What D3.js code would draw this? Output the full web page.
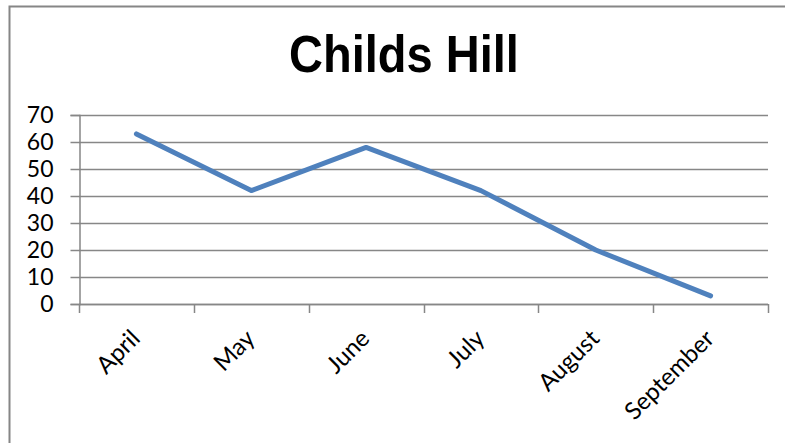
<!DOCTYPE html>
<html><head><meta charset="utf-8">
<script src="https://cdn.jsdelivr.net/npm/d3@7/dist/d3.min.js"></script>
<style>body{margin:0;background:#fff}svg{display:block}</style>
</head><body>
<script>
const title = "Childs Hill";
const categories = ["April","May","June","July","August","September"];
const values = [63, 42, 58, 42, 20, 3];
const yTicks = [0,10,20,30,40,50,60,70];

(function(){
const W = 785, H = 443;
const svg = d3.select("body").append("svg").attr("width", W).attr("height", H);
svg.append("rect").attr("width", W).attr("height", H).attr("fill", "#fff");
// chart border (left + top visible)
svg.append("path").attr("d", `M9.5,${H} V6.5 H${W}`).attr("fill","none").attr("stroke","#868686").attr("stroke-width",2);

const pLeft = 79, pRight = 768, pTop = 115, pBottom = 304;
const x = d3.scaleBand().domain(categories).range([pLeft, pRight]);
const y = d3.scaleLinear().domain([0, 70]).range([pBottom, pTop]);

// gridlines
svg.append("g").selectAll("line").data(yTicks).join("line")
  .attr("x1", pLeft).attr("x2", pRight)
  .attr("y1", d => Math.round(y(d)) + 0.5).attr("y2", d => Math.round(y(d)) + 0.5)
  .attr("stroke", "#878787").attr("stroke-width", 1.5);

// y axis
const yAxis = d3.axisLeft(y).tickValues(yTicks).tickSize(9).tickPadding(17);
const gy = svg.append("g").attr("transform", `translate(${pLeft+0.5},0)`).call(yAxis);
gy.select(".domain").attr("stroke", "#878787").attr("stroke-width", 1.5);
gy.selectAll(".tick line").attr("stroke", "#878787").attr("stroke-width", 1.5);
gy.selectAll("text").attr("font-family", "Lato, 'Open Sans', sans-serif").attr("font-size", 23).attr("fill", "#000");

// x axis
const xTickPos = categories.map(c => x(c)).concat([pRight]);
const gx = svg.append("g");
gx.append("line").attr("x1", pLeft).attr("x2", pRight).attr("y1", pBottom + 0.5).attr("y2", pBottom + 0.5)
  .attr("stroke", "#878787").attr("stroke-width", 1.5);
gx.selectAll("line.t").data(xTickPos).join("line").attr("class","t")
  .attr("x1", d => Math.round(d) + 0.5).attr("x2", d => Math.round(d) + 0.5)
  .attr("y1", pBottom).attr("y2", pBottom + 9)
  .attr("stroke", "#878787").attr("stroke-width", 1.5);
gx.selectAll("text").data(categories).join("text")
  .attr("transform", d => `translate(${x(d) + x.bandwidth()/2 + 5},${pBottom + 36}) rotate(-45)`)
  .attr("text-anchor", "end")
  .attr("font-family", "Lato, 'Open Sans', sans-serif").attr("font-size", 24).attr("fill", "#000")
  .text(d => d);

// line
const line = d3.line().x((d, i) => x(categories[i]) + x.bandwidth()/2).y(d => y(d));
svg.append("path").datum(values).attr("d", line)
  .attr("fill", "none").attr("stroke", "#4F81BD").attr("stroke-width", 5)
  .attr("stroke-linecap", "round").attr("stroke-linejoin", "round");

// title
svg.append("text").attr("transform", "translate(404,72) scale(1,1.09)").attr("text-anchor", "middle")
  .attr("font-family", "'Liberation Sans', Arial, sans-serif").attr("font-weight", "bold")
  .attr("font-size", 47).attr("fill", "#000").text(title);
})();
</script>
</body></html>
